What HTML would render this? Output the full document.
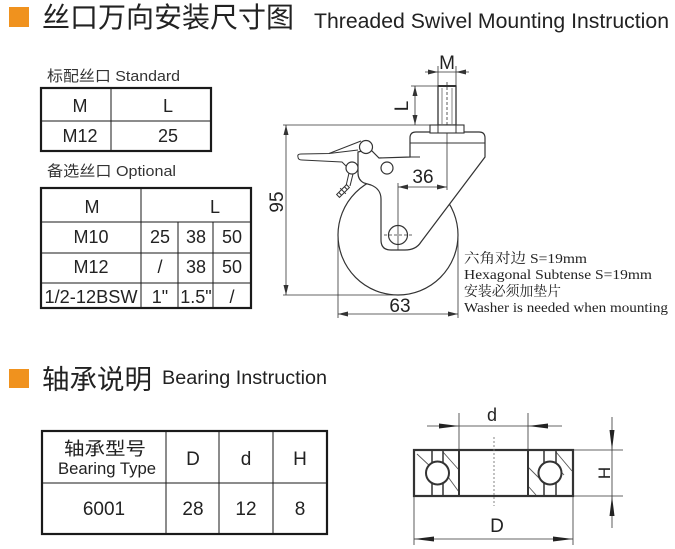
<!DOCTYPE html>
<html><head><meta charset="utf-8">
<style>
html,body{margin:0;padding:0;background:#fff;}
svg{display:block;}
.s{font-family:"Liberation Sans","Noto Sans CJK SC",sans-serif;}
.cj{font-family:"Liberation Sans","Noto Sans CJK SC",sans-serif;}
.sf{font-family:"Liberation Serif","Noto Serif CJK SC",serif;}
</style></head>
<body>
<svg width="675" height="549" viewBox="0 0 675 549" xmlns="http://www.w3.org/2000/svg">
<rect width="675" height="549" fill="#fff"/>

<!-- Header 1 -->
<rect x="9" y="7" width="20" height="20" fill="#F0921E"/>
<text x="42" y="27" class="cj" font-size="28" fill="#222" textLength="252" lengthAdjust="spacingAndGlyphs">丝口万向安装尺寸图</text>
<text x="314" y="28" class="s" font-size="21" fill="#222" textLength="355" lengthAdjust="spacingAndGlyphs">Threaded Swivel Mounting Instruction</text>

<!-- Standard table -->
<text x="47" y="81" class="cj" font-size="15" fill="#333" textLength="133" lengthAdjust="spacingAndGlyphs">标配丝口 Standard</text>
<g stroke="#1a1a1a" fill="none">
<rect x="41" y="88" width="170" height="63" stroke-width="2.2"/>
<line x1="41" y1="121" x2="211" y2="121" stroke-width="1"/>
<line x1="111" y1="88" x2="111" y2="151" stroke-width="1"/>
</g>
<g class="s" font-size="18" fill="#222" text-anchor="middle">
<text x="80" y="112">M</text>
<text x="168" y="112">L</text>
<text x="80" y="142">M12</text>
<text x="168" y="142">25</text>
</g>

<!-- Optional table -->
<text x="47" y="176" class="cj" font-size="15" fill="#333" textLength="129" lengthAdjust="spacingAndGlyphs">备选丝口 Optional</text>
<g stroke="#1a1a1a" fill="none">
<rect x="41" y="188" width="210" height="120" stroke-width="2.2"/>
<line x1="41" y1="222" x2="251" y2="222" stroke-width="1"/>
<line x1="41" y1="253" x2="251" y2="253" stroke-width="1"/>
<line x1="41" y1="283" x2="251" y2="283" stroke-width="1"/>
<line x1="141" y1="188" x2="141" y2="308" stroke-width="1"/>
<line x1="178" y1="222" x2="178" y2="308" stroke-width="1"/>
<line x1="213" y1="222" x2="213" y2="308" stroke-width="1"/>
</g>
<g class="s" font-size="18" fill="#222" text-anchor="middle">
<text x="92" y="213">M</text>
<text x="215" y="213">L</text>
<text x="91" y="243">M10</text>
<text x="160" y="243">25</text>
<text x="196" y="243">38</text>
<text x="232" y="243">50</text>
<text x="91" y="273">M12</text>
<text x="160" y="273">/</text>
<text x="196" y="273">38</text>
<text x="232" y="273">50</text>
<text x="91" y="303" textLength="93" lengthAdjust="spacingAndGlyphs">1/2-12BSW</text>
<text x="160" y="303">1"</text>
<text x="196" y="303">1.5"</text>
<text x="232" y="303">/</text>
</g>

<!-- Caster drawing -->
<g stroke="#333" stroke-width="1" fill="none">
  <circle cx="398" cy="235" r="60" fill="#fff" stroke-width="1.2"/>
  <path d="M410,157 L410,138 Q410,132 416,132 L479,132 Q485,132 485,138 L485,157 L421,242 Q416,250 405,250 L391,250 Q381,250 381,240 L381,199 Q381,189 371,185 L364,183 Q358,180 358,173 L358,152 L362,151 L371,150 L379,158 L410,157 Z" fill="#fff" stroke-width="1.2"/>
  <line x1="410" y1="143" x2="485" y2="143"/>
  <line x1="410" y1="157" x2="420" y2="157"/>
  <path d="M298,157 Q297,154 301,154 L329,153.5 L361,141" fill="#fff"/>
  <line x1="329" y1="153.5" x2="358" y2="150"/>
  <path d="M298,157 Q298,160 302,160 L342,162 L347,167"/>
  <circle cx="366" cy="147" r="6.5" fill="#fff" stroke-width="1.2"/>
  <circle cx="352" cy="168" r="6" fill="#fff" stroke-width="1.2"/>
  <circle cx="387" cy="168" r="6" fill="#fff" stroke-width="1.2"/>
  <line x1="349" y1="173" x2="346" y2="186"/>
  <line x1="353" y1="174" x2="350" y2="186"/>
  <g transform="rotate(-45 343 191)">
    <rect x="336" y="189" width="14" height="4" fill="#fff"/>
    <line x1="339" y1="189" x2="339" y2="193"/>
    <line x1="343" y1="187" x2="343" y2="195"/>
    <line x1="347" y1="189" x2="347" y2="193"/>
  </g>
  <circle cx="398" cy="235" r="9.5" fill="#fff" stroke-width="1.2"/>
  <line x1="384" y1="235" x2="412" y2="235" stroke-dasharray="3,2" stroke-width="0.8"/>
  <rect x="438" y="86" width="18" height="39" fill="#fff" stroke-width="1.3"/>
  <line x1="438" y1="86" x2="456" y2="86" stroke-width="2"/>
  <line x1="442" y1="88" x2="442" y2="124" stroke-width="0.6"/>
  <line x1="452" y1="88" x2="452" y2="124" stroke-width="0.6"/>
  <rect x="430" y="125" width="34" height="8" fill="#fff" stroke-width="1.1"/>
  <line x1="438" y1="125" x2="438" y2="133"/>
  <line x1="456" y1="125" x2="456" y2="133"/>
  <line x1="447" y1="82" x2="447" y2="125" stroke-dasharray="3,2" stroke-width="0.8"/>
  <line x1="447" y1="133" x2="447" y2="190" stroke-width="0.8"/>
  <line x1="398" y1="183" x2="398" y2="250" stroke-width="0.8"/>
  <line x1="398" y1="187" x2="447" y2="187" stroke-width="0.8"/>
  <line x1="283" y1="125" x2="430" y2="125" stroke-width="0.8"/>
  <line x1="283" y1="295" x2="398" y2="295" stroke-width="0.8"/>
  <line x1="286" y1="125" x2="286" y2="295" stroke-width="0.8"/>
  <line x1="338" y1="238" x2="338" y2="318" stroke-width="0.8"/>
  <line x1="458" y1="238" x2="458" y2="318" stroke-width="0.8"/>
  <line x1="338" y1="314" x2="458" y2="314" stroke-width="0.8"/>
  <line x1="438" y1="66" x2="438" y2="86" stroke-width="0.8"/>
  <line x1="456" y1="66" x2="456" y2="86" stroke-width="0.8"/>
  <line x1="425" y1="72" x2="469" y2="72" stroke-width="0.8"/>
  <line x1="411" y1="86" x2="438" y2="86" stroke-width="0.8"/>
  <line x1="415" y1="86" x2="415" y2="125" stroke-width="0.8"/>
</g>
<g fill="#333">
  <polygon points="438,72 428,69.5 428,74.5"/>
  <polygon points="456,72 466,69.5 466,74.5"/>
  <polygon points="415,86 412.5,96 417.5,96"/>
  <polygon points="415,125 412.5,115 417.5,115"/>
  <polygon points="286,125 283.5,135 288.5,135"/>
  <polygon points="286,295 283.5,285 288.5,285"/>
  <polygon points="398,187 408,184.5 408,189.5"/>
  <polygon points="447,187 437,184.5 437,189.5"/>
  <polygon points="338,314 348,311.5 348,316.5"/>
  <polygon points="458,314 448,311.5 448,316.5"/>
</g>
<g class="s" font-size="19" fill="#222" text-anchor="middle">
  <text x="447" y="69">M</text>
  <text transform="translate(408,106) rotate(-90)">L</text>
  <text transform="translate(283,202) rotate(-90)">95</text>
  <text x="423" y="183">36</text>
  <text x="400" y="312">63</text>
</g>
<g class="sf" font-size="14" fill="#222">
  <text x="464" y="263" textLength="123" lengthAdjust="spacingAndGlyphs">六角对边 S=19mm</text>
  <text x="464" y="279" textLength="188" lengthAdjust="spacingAndGlyphs">Hexagonal Subtense S=19mm</text>
  <text x="464" y="296" textLength="97" lengthAdjust="spacingAndGlyphs">安装必须加垫片</text>
  <text x="464" y="312" textLength="204" lengthAdjust="spacingAndGlyphs">Washer is needed when mounting</text>
</g>

<!-- Header 2 -->
<rect x="9" y="369" width="20" height="19" fill="#F0921E"/>
<text x="42" y="389" class="cj" font-size="27" fill="#222" textLength="110" lengthAdjust="spacingAndGlyphs">轴承说明</text>
<text x="162" y="384" class="s" font-size="19" fill="#222" textLength="165" lengthAdjust="spacingAndGlyphs">Bearing Instruction</text>

<!-- Bearing table -->
<g stroke="#1a1a1a" fill="none">
<rect x="42" y="431" width="285" height="103" stroke-width="2.2"/>
<line x1="42" y1="483" x2="327" y2="483" stroke-width="1"/>
<line x1="166" y1="431" x2="166" y2="534" stroke-width="1"/>
<line x1="219" y1="431" x2="219" y2="534" stroke-width="1"/>
<line x1="273" y1="431" x2="273" y2="534" stroke-width="1"/>
</g>
<g class="s" fill="#222" text-anchor="middle">
<text x="105" y="455" font-size="18" class="cj" textLength="82" lengthAdjust="spacingAndGlyphs">轴承型号</text>
<text x="107" y="474" font-size="16.5" textLength="98" lengthAdjust="spacingAndGlyphs">Bearing Type</text>
<text x="193" y="465" font-size="19">D</text>
<text x="246" y="465" font-size="19">d</text>
<text x="300" y="465" font-size="19">H</text>
<text x="104" y="515" font-size="19">6001</text>
<text x="193" y="515" font-size="19">28</text>
<text x="246" y="515" font-size="19">12</text>
<text x="300" y="515" font-size="19">8</text>
</g>

<!-- Bearing drawing -->
<g stroke="#333" fill="none">
  <g stroke-width="0.9" stroke="#555">
    <line x1="417" y1="454" x2="432" y2="468"/>
    <line x1="443" y1="452" x2="459" y2="470"/>
    <line x1="443" y1="470" x2="459" y2="492"/>
    <line x1="528" y1="467" x2="544" y2="483"/>
    <line x1="528" y1="486" x2="536" y2="495"/>
    <line x1="556" y1="452" x2="572" y2="471"/>
    <line x1="556" y1="466" x2="564" y2="475"/>
  </g>
  <line x1="432" y1="450" x2="432" y2="496" stroke-width="1.5"/>
  <line x1="443" y1="450" x2="443" y2="496" stroke-width="1.5"/>
  <line x1="544" y1="450" x2="544" y2="496" stroke-width="1.5"/>
  <line x1="556" y1="450" x2="556" y2="496" stroke-width="1.5"/>
  <circle cx="437.5" cy="473" r="11.5" fill="#fff" stroke-width="2"/>
  <circle cx="550" cy="473" r="11.5" fill="#fff" stroke-width="2"/>
  <rect x="414" y="450" width="159" height="46" stroke-width="2.2"/>
  <line x1="459" y1="450" x2="459" y2="496" stroke-width="2"/>
  <line x1="528" y1="450" x2="528" y2="496" stroke-width="2"/>
  <line x1="494" y1="437" x2="494" y2="506" stroke-dasharray="2,2" stroke-width="0.9" stroke="#777"/>
  <line x1="459" y1="413" x2="459" y2="450" stroke-width="0.8"/>
  <line x1="528" y1="413" x2="528" y2="450" stroke-width="0.8"/>
  <line x1="427" y1="426" x2="562" y2="426" stroke-width="0.8"/>
  <line x1="414" y1="496" x2="414" y2="545" stroke-width="0.8"/>
  <line x1="573" y1="496" x2="573" y2="545" stroke-width="0.8"/>
  <line x1="414" y1="539" x2="573" y2="539" stroke-width="0.8"/>
  <line x1="573" y1="450" x2="623" y2="450" stroke-width="0.8"/>
  <line x1="573" y1="496" x2="623" y2="496" stroke-width="0.8"/>
  <line x1="612" y1="417" x2="612" y2="528" stroke-width="0.8"/>
</g>
<g fill="#222">
  <polygon points="459,426 439,423.5 439,428.5"/>
  <polygon points="528,426 548,423.5 548,428.5"/>
  <polygon points="414,539 434,536.5 434,541.5"/>
  <polygon points="573,539 553,536.5 553,541.5"/>
  <polygon points="612,450 609.5,430 614.5,430"/>
  <polygon points="612,496 609.5,516 614.5,516"/>
</g>
<g class="s" fill="#222" text-anchor="middle">
  <text x="492" y="421" font-size="18">d</text>
  <text x="497" y="532" font-size="19">D</text>
  <text transform="translate(610,473) rotate(-90)" font-size="17">H</text>
</g>
</svg>
</body></html>
